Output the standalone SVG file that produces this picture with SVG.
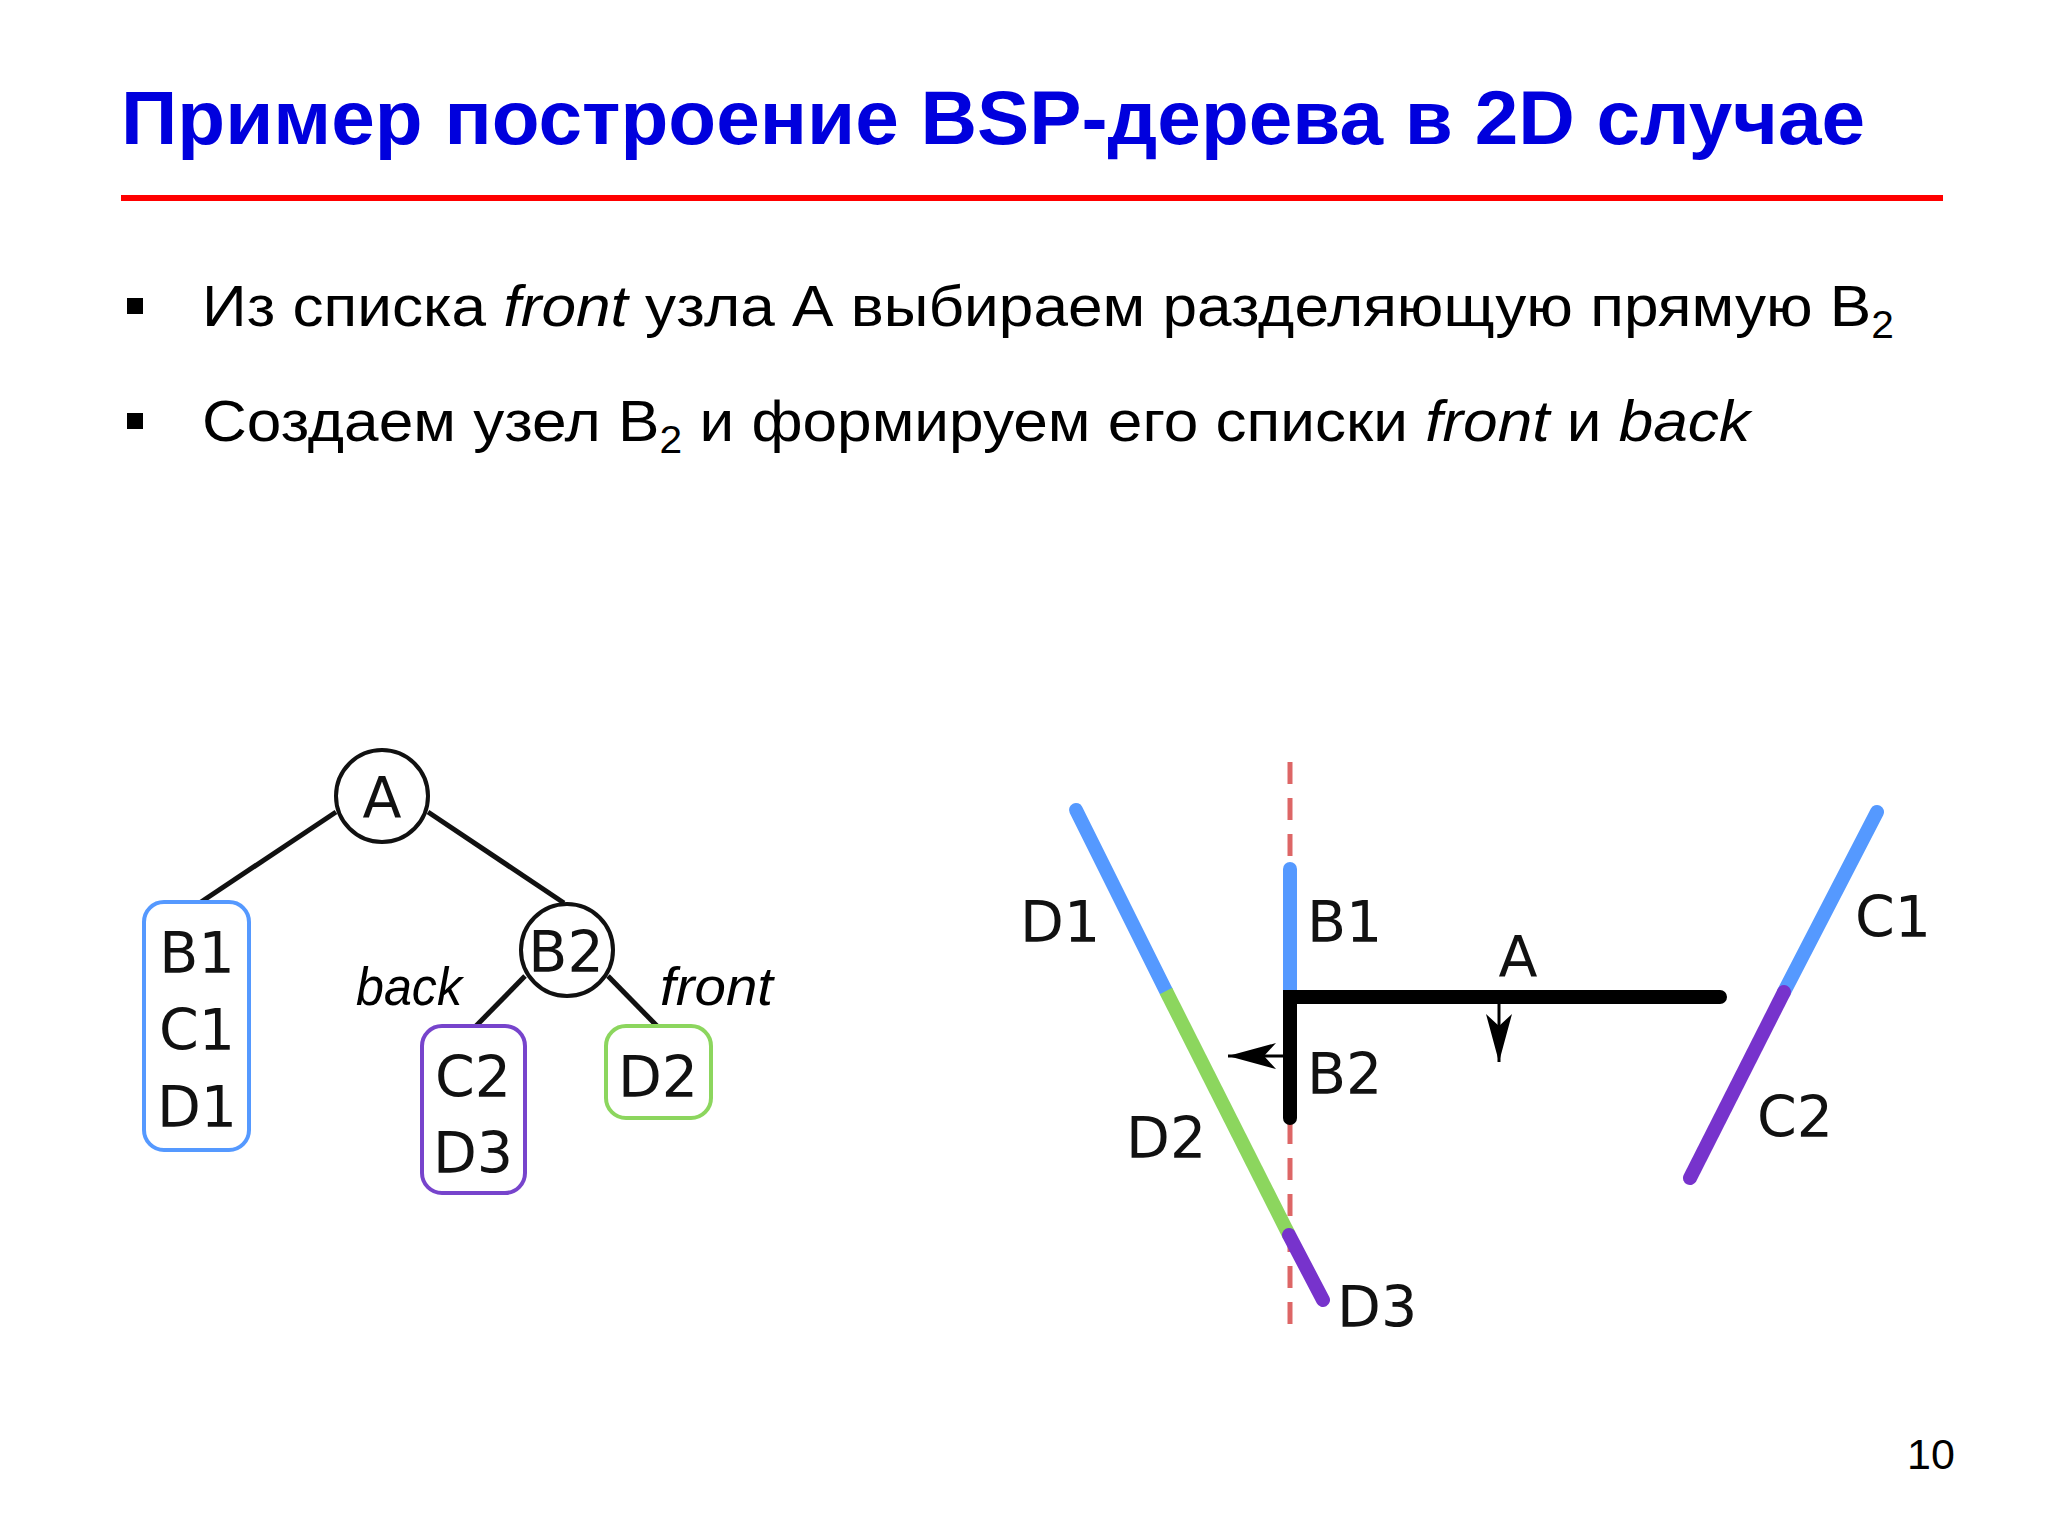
<svg xmlns="http://www.w3.org/2000/svg" width="2048" height="1536" viewBox="0 0 2048 1536">
<style>
.title{font-family:"Liberation Sans","Open Sans",sans-serif;font-weight:bold;font-size:76px;fill:#0000dd}
.body{font-family:"Liberation Sans","Open Sans",sans-serif;font-size:58px;fill:#000}
.it{font-style:italic}
.lbl{font-family:"DejaVu Sans",sans-serif;font-size:57px;fill:#111}
.mid{text-anchor:middle}
.edge{stroke:#111;stroke-width:5;fill:none}
.circ{fill:#fff;stroke:#111;stroke-width:4}
.box{fill:#fff;stroke-width:4}
.seg{stroke-width:14;stroke-linecap:round;fill:none}
</style>
<defs>
<marker id="stealth" viewBox="-50 -14 52 28" refX="0" refY="0" markerWidth="52" markerHeight="28" markerUnits="userSpaceOnUse" orient="auto">
<path d="M0,0 L-48,-13 L-36,0 L-48,13 Z" fill="#000"/>
</marker>
</defs>
<rect width="2048" height="1536" fill="#fff"/>
<text class="title" x="121" y="144" textLength="1744" lengthAdjust="spacingAndGlyphs">Пример построение BSP-дерева в 2D случае</text>
<rect x="121" y="195" width="1822" height="6" fill="#ff0000"/>
<rect x="127" y="298" width="16" height="16" fill="#000"/>
<rect x="127" y="413" width="16" height="16" fill="#000"/>
<text class="body" x="202" y="326" textLength="1692" lengthAdjust="spacingAndGlyphs">Из списка <tspan class="it">front</tspan> узла А выбираем разделяющую прямую B<tspan font-size="38" dy="12">2</tspan></text>
<text class="body" x="202" y="441" textLength="1548" lengthAdjust="spacingAndGlyphs">Создаем узел B<tspan font-size="38" dy="12">2</tspan><tspan dy="-12"> и формируем его списки </tspan><tspan class="it">front</tspan> и <tspan class="it">back</tspan></text>

<g id="connectors">
<line class="edge" x1="336" y1="812" x2="201" y2="902"/>
<line class="edge" x1="428" y1="812" x2="564" y2="903"/>
<line class="edge" x1="525" y1="976" x2="476" y2="1026"/>
<line class="edge" x1="608" y1="976" x2="657" y2="1026"/>
</g>
<g id="node-A"><circle class="circ" cx="382" cy="796" r="46"/><text class="lbl mid" x="382" y="818">A</text></g>
<g id="node-B2"><circle class="circ" cx="567" cy="950" r="46"/><text class="lbl mid" x="566" y="972">B2</text></g>
<g id="list-B1C1D1"><rect class="box" x="144" y="902" width="105" height="248" rx="20" stroke="#5599ff"/>
<text class="lbl mid" x="197" y="973">B1</text><text class="lbl mid" x="197" y="1050">C1</text><text class="lbl mid" x="197" y="1127">D1</text></g>
<g id="list-C2D3"><rect class="box" x="422" y="1026" width="103" height="167" rx="20" stroke="#7744cc"/>
<text class="lbl mid" x="473" y="1097">C2</text><text class="lbl mid" x="473" y="1173">D3</text></g>
<g id="list-D2"><rect class="box" x="606" y="1026" width="105" height="92" rx="20" stroke="#8cd65e"/>
<text class="lbl mid" x="658" y="1097">D2</text></g>
<text class="body it" x="356" y="1005" style="font-size:53px" textLength="106" lengthAdjust="spacingAndGlyphs">back</text>
<text class="body it" x="660" y="1005" style="font-size:53px" textLength="113" lengthAdjust="spacingAndGlyphs">front</text>

<g id="scene">
<line x1="1290" y1="762" x2="1290" y2="1336" stroke="#dd6666" stroke-width="5" stroke-dasharray="22 14"/>
<line class="seg" x1="1290" y1="869" x2="1290" y2="995" stroke="#5599ff"/>
<line class="seg" x1="1076" y1="810" x2="1166" y2="991" stroke="#5599ff"/>
<line x1="1166" y1="991" x2="1289" y2="1235" stroke="#8cd65e" stroke-width="14"/>
<path class="seg" d="M1289,1235 L1323,1300" stroke="#7733cc"/>
<line class="seg" x1="1877" y1="812" x2="1784" y2="992" stroke="#5599ff"/>
<path class="seg" d="M1784,992 L1690,1178" stroke="#7733cc"/>
<path d="M1720,997 L1290,997 L1290,1118" fill="none" stroke="#000" stroke-width="14" stroke-linecap="round" stroke-linejoin="miter"/>
<line x1="1285" y1="1056" x2="1228" y2="1056" stroke="#000" stroke-width="3" marker-end="url(#stealth)"/>
<line x1="1499" y1="1003" x2="1499" y2="1062" stroke="#000" stroke-width="3" marker-end="url(#stealth)"/>
<text class="lbl" x="1020" y="942">D1</text>
<text class="lbl" x="1307" y="942">B1</text>
<text class="lbl mid" x="1518" y="977">A</text>
<text class="lbl" x="1307" y="1094">B2</text>
<text class="lbl" x="1126" y="1158">D2</text>
<text class="lbl" x="1337" y="1327">D3</text>
<text class="lbl" x="1855" y="937">C1</text>
<text class="lbl" x="1757" y="1137">C2</text>
</g>
<text class="body" x="1907" y="1469" style="font-size:43px">10</text>
</svg>
